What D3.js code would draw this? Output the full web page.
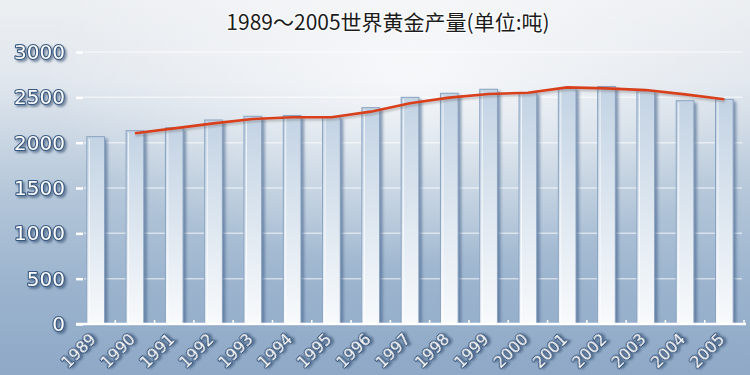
<!DOCTYPE html>
<html>
<head>
<meta charset="utf-8">
<script src="https://cdn.jsdelivr.net/npm/d3@7"></script>
<style>
  html, body { margin: 0; padding: 0; overflow: hidden; }
  svg { display: block; }
</style>
</head>
<body>
<div id="app"></div>
<script>
const years = ['1989', '1990', '1991', '1992', '1993', '1994', '1995', '1996', '1997',
  '1998', '1999', '2000', '2001', '2002', '2003', '2004', '2005'];
// annual output (tons)
const production = [2066, 2132, 2165, 2250, 2291, 2300, 2287, 2386, 2500,
  2545, 2589, 2551, 2600, 2620, 2573, 2463, 2478];
// trend line (starts at 1990)
const trendYears = years.slice(1);
const trend = [2103, 2158, 2213, 2261, 2280, 2280, 2342, 2434, 2497,
  2537, 2551, 2610, 2599, 2580, 2533, 2478];
const yTicks = [0, 500, 1000, 1500, 2000, 2500, 3000];
const title = '1989～2005世界黄金产量(单位:吨)';

const W = 750, H = 375;
const margin = { top: 52, right: 18, bottom: 51, left: 76 };

const svg = d3.select('#app').append('svg')
  .attr('width', W)
  .attr('height', H);

const defs = svg.append('defs');

// background gradient: pale grey at top to steel blue at bottom
const bg = defs.append('linearGradient')
  .attr('id', 'bg').attr('x1', 0).attr('y1', 0).attr('x2', 0).attr('y2', 1);
bg.append('stop').attr('offset', '0%').attr('stop-color', '#eceff2');
bg.append('stop').attr('offset', '22%').attr('stop-color', '#e0e6ed');
bg.append('stop').attr('offset', '50%').attr('stop-color', '#b6c8da');
bg.append('stop').attr('offset', '75%').attr('stop-color', '#9cb4ce');
bg.append('stop').attr('offset', '100%').attr('stop-color', '#8ea8c6');

const glow = defs.append('radialGradient')
  .attr('id', 'glow').attr('cx', 0.55).attr('cy', 0.2).attr('r', 0.5);
glow.append('stop').attr('offset', '0%').attr('stop-color', '#ffffff').attr('stop-opacity', 0.7);
glow.append('stop').attr('offset', '100%').attr('stop-color', '#ffffff').attr('stop-opacity', 0);

const barGrad = defs.append('linearGradient')
  .attr('id', 'barGrad').attr('x1', 0).attr('y1', 0).attr('x2', 0).attr('y2', 1);
barGrad.append('stop').attr('offset', '0%').attr('stop-color', '#c3d3e4');
barGrad.append('stop').attr('offset', '45%').attr('stop-color', '#dae4ee');
barGrad.append('stop').attr('offset', '100%').attr('stop-color', '#f8fafc');

const blur = defs.append('filter').attr('id', 'blur')
  .attr('x', '-50%').attr('y', '-10%').attr('width', '200%').attr('height', '120%');
blur.append('feGaussianBlur').attr('stdDeviation', 1.5);

// shadow for the outlined labels
const txtShadow = defs.append('filter').attr('id', 'txtShadow')
  .attr('x', '-20%').attr('y', '-30%').attr('width', '150%').attr('height', '180%');
txtShadow.append('feDropShadow')
  .attr('dx', 2).attr('dy', 2).attr('stdDeviation', 1.2)
  .attr('flood-color', '#2b4566').attr('flood-opacity', 0.55);

const lineShadow = defs.append('filter').attr('id', 'lineShadow')
  .attr('x', '-5%').attr('y', '-50%').attr('width', '110%').attr('height', '200%');
lineShadow.append('feDropShadow')
  .attr('dx', 1).attr('dy', 2).attr('stdDeviation', 1)
  .attr('flood-color', '#555').attr('flood-opacity', 0.35);

// background
svg.append('rect').attr('width', W).attr('height', H).attr('fill', 'url(#bg)');
svg.append('rect').attr('width', W).attr('height', H).attr('fill', 'url(#glow)');

const x0 = margin.left, x1 = W - margin.right;

const x = d3.scaleBand()
  .domain(years)
  .range([x0, x1 + 12])
  .paddingInner(0.55)
  .paddingOuter(0.275);

const y = d3.scaleLinear()
  .domain([0, 3000])
  .range([H - margin.bottom, margin.top]);

// gridlines
svg.append('g')
  .selectAll('line')
  .data(yTicks.slice(1))
  .join('line')
  .attr('x1', x0 + 8).attr('x2', x1 + 10)
  .attr('y1', d => y(d)).attr('y2', d => y(d))
  .attr('stroke', '#ffffff')
  .attr('stroke-opacity', 0.55)
  .attr('stroke-width', 1.5);

// bars
const bars = svg.append('g')
  .selectAll('g')
  .data(years.map((yr, i) => ({ yr, v: production[i] })))
  .join('g');

bars.append('rect')
  .attr('x', d => x(d.yr) + 3)
  .attr('y', d => y(d.v) + 2)
  .attr('width', x.bandwidth())
  .attr('height', d => y(0) - y(d.v) - 2)
  .attr('fill', '#3f5d86')
  .attr('opacity', 0.6)
  .attr('filter', 'url(#blur)');

bars.append('rect')
  .attr('x', d => x(d.yr))
  .attr('y', d => y(d.v))
  .attr('width', x.bandwidth())
  .attr('height', d => y(0) - y(d.v))
  .attr('fill', 'url(#barGrad)')
  .attr('stroke', '#8aa3c0')
  .attr('stroke-width', 1);

bars.append('line')
  .attr('x1', d => x(d.yr) + 2.5).attr('x2', d => x(d.yr) + 2.5)
  .attr('y1', d => y(d.v) + 2).attr('y2', y(0))
  .attr('stroke', '#ffffff').attr('stroke-opacity', 0.7);

// trend line
const line = d3.line()
  .x((d, i) => x(trendYears[i]) + x.bandwidth() / 2)
  .y(d => y(d));

svg.append('path')
  .datum(trend)
  .attr('d', line)
  .attr('fill', 'none')
  .attr('stroke', '#d8401f')
  .attr('stroke-width', 2.6)
  .attr('stroke-linejoin', 'round')
  .attr('filter', 'url(#lineShadow)');

// y axis
const yAxis = d3.axisLeft(y)
  .tickValues(yTicks)
  .tickFormat(d3.format('d'))
  .tickSize(0)
  .tickPadding(11);

const gy = svg.append('g')
  .attr('transform', `translate(${x0},0)`)
  .call(yAxis);
gy.select('.domain').remove();
gy.selectAll('.tick').append('line')
  .attr('x1', 0).attr('x2', 7)
  .attr('stroke', '#ffffff').attr('stroke-width', 2.5);

// x axis
const xAxis = d3.axisBottom(x).tickSize(0).tickPadding(0);
const gx = svg.append('g')
  .attr('transform', `translate(0,${y(0)})`)
  .call(xAxis);
gx.select('.domain').remove();
gx.append('line')
  .attr('x1', x0).attr('x2', x1 + 14)
  .attr('stroke', '#ffffff').attr('stroke-width', 2.5);
gx.selectAll('.boundary')
  .data(years)
  .join('line')
  .attr('class', 'boundary')
  .attr('x1', d => x(d) - x.step() * 0.275 + x.step())
  .attr('x2', d => x(d) - x.step() * 0.275 + x.step())
  .attr('y1', 0).attr('y2', -4)
  .attr('stroke', '#ffffff').attr('stroke-width', 1.5);

gx.selectAll('.tick text')
  .attr('text-anchor', 'end')
  .attr('transform', 'translate(-3,12) rotate(-45)')
  .attr('dy', '0.35em')
  .attr('y', 0);

// outlined label look
svg.selectAll('.tick text')
  .style('font-family', 'DejaVu Sans')
  .attr('fill', '#ffffff')
  .attr('stroke', '#36577f')
  .attr('stroke-width', 2.2)
  .attr('stroke-linejoin', 'round')
  .attr('paint-order', 'stroke')
  .attr('filter', 'url(#txtShadow)');
gy.selectAll('.tick text').style('font-size', '20px');
gx.selectAll('.tick text').style('font-size', '16px');

// title
svg.append('text')
  .attr('x', 388)
  .attr('y', 30)
  .attr('text-anchor', 'middle')
  .style('font-family', 'Noto Sans CJK SC')
  .style('font-size', '21px')
  .attr('fill', '#1c1c1c')
  .attr('stroke', '#ffffff')
  .attr('stroke-width', 2)
  .attr('paint-order', 'stroke')
  .text(title);
</script>
</body>
</html>
